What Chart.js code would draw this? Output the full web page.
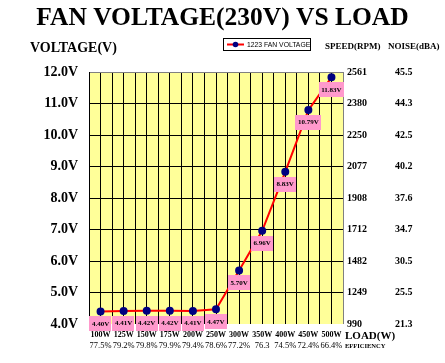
<!DOCTYPE html>
<html>
<head>
<meta charset="utf-8">
<script src="https://cdn.jsdelivr.net/npm/chart.js@4.4.1/dist/chart.umd.min.js"></script>
<style>
	body{margin:0;background:#fff;}
</style>
</head>
<body>
<canvas id="mycanvas" width="445" height="363"></canvas>
<script>
var loads=['100W','125W','150W','175W','200W','250W','300W','350W','400W','450W','500W'];
var efficiency=['77.5%','79.2%','79.8%','79.9%','79.4%','78.6%','77.2%','76.3','74.5%','72.4%','66.4%'];
var voltage=[4.40,4.41,4.42,4.42,4.41,4.47,5.70,6.96,8.83,10.79,11.83];
var voltTicks=['4.0V','5.0V','6.0V','7.0V','8.0V','9.0V','10.0V','11.0V','12.0V'];
var speedTicks=['990','1249','1482','1712','1908','2077','2250','2380','2561'];
var noiseTicks=['21.3','25.5','30.5','34.7','37.6','40.2','42.5','44.3','45.5'];
var seriesName='1223 FAN VOLTAGE';

var serif='"Liberation Serif", "Times New Roman", serif';
Chart.defaults.color='#000';

var points=[];
for(var i in voltage){
	points.push({x:2*i+1,y:voltage[i]});
}

var deco={
	id:'deco',
	beforeDraw:function(chart){
		var ctx=chart.ctx, a=chart.chartArea;
		ctx.save();
		ctx.fillStyle='#ffff99';
		ctx.fillRect(a.left,a.top,a.right-a.left,a.bottom-a.top);
		ctx.restore();
	},
	afterDatasetsDraw:function(chart){
		var ctx=chart.ctx;
		var meta=chart.getDatasetMeta(0);
		ctx.save();
		ctx.font='bold 7px '+serif;
		ctx.textAlign='center';
		ctx.textBaseline='middle';
		meta.data.forEach(function(pt,i){
			var txt=voltage[i].toFixed(2)+'V';
			var w=Math.max(21,ctx.measureText(txt).width+5);
			ctx.fillStyle='#ff99cc';
			ctx.fillRect(Math.round(pt.x-w/2),Math.round(pt.y+5),Math.round(w),15);
			ctx.fillStyle='#000';
			ctx.fillText(txt,pt.x,pt.y+12.5);
		});
		ctx.restore();
	},
	afterDraw:function(chart){
		var ctx=chart.ctx;
		ctx.save();
		ctx.fillStyle='#000';
		ctx.textBaseline='alphabetic';
		ctx.textAlign='left';
		ctx.font='bold 14px '+serif;
		ctx.fillText('VOLTAGE(V)',30,52);
		ctx.font='bold 9px '+serif;
		ctx.fillText('SPEED(RPM)',325,49);
		ctx.fillText('NOISE(dBA)',388,49);
		ctx.font='bold 11px '+serif;
		ctx.fillText('LOAD(W)',345,339);
		ctx.font='bold 6.5px '+serif;
		ctx.fillText('EFFICIENCY',345,348);
		// legend box
		ctx.fillStyle='#fff';
		ctx.fillRect(223,38,87,12);
		ctx.strokeStyle='#000';
		ctx.lineWidth=1;
		ctx.strokeRect(223.5,38.5,87,12);
		ctx.strokeStyle='#ff0000';
		ctx.lineWidth=2;
		ctx.beginPath();ctx.moveTo(227,44.5);ctx.lineTo(244,44.5);ctx.stroke();
		ctx.fillStyle='#000080';
		ctx.beginPath();ctx.arc(235.5,44.5,2.8,0,Math.PI*2);ctx.fill();
		ctx.fillStyle='#000';
		ctx.font='6.8px "Liberation Sans", Arial, sans-serif';
		ctx.textBaseline='middle';
		ctx.fillText(seriesName,247,45);
		ctx.restore();
	}
};

var ctx=document.getElementById('mycanvas');
var chart=new Chart(ctx,{
	type:'line',
	data:{
		datasets:[{
			label:seriesName,
			data:points,
			borderColor:'#ff0000',
			borderWidth:2,
			backgroundColor:'#000080',
			pointBackgroundColor:'#000080',
			pointBorderColor:'#000080',
			pointRadius:3,
			tension:0
		}]
	},
	options:{
		responsive:false,
		devicePixelRatio:1,
		animation:false,
		events:[],
		layout:{padding:{top:0,left:0,right:0,bottom:9}},
		plugins:{
			legend:{display:false},
			tooltip:{enabled:false},
			title:{
				display:true,
				text:'FAN VOLTAGE(230V) VS LOAD',
				color:'#000',
				font:{family:serif,size:25.5,weight:'bold'},
				padding:{top:3.5,bottom:37.9}
			}
		},
		scales:{
			x:{
				type:'linear',min:0,max:22,
				position:'bottom',
				afterFit:function(s){s.height=16;},
				border:{display:false},
				grid:{
					drawTicks:false,
					color:function(c){return c.tick&&c.tick.value===22?'#808080':'#000';},
					lineWidth:1
				},
				ticks:{
					stepSize:1,autoSkip:false,maxRotation:0,padding:6,
					font:{family:serif,size:8,weight:'bold'},
					callback:function(v){return v%2===1?loads[(v-1)/2]:'';}
				}
			},
			x2:{
				type:'linear',min:0,max:22,
				position:'bottom',
				afterFit:function(s){s.height=14;},
				border:{display:false},
				grid:{display:false,drawTicks:false},
				ticks:{
					stepSize:1,autoSkip:false,maxRotation:0,padding:1,
					font:{family:serif,size:8.5},
					callback:function(v){return v%2===1?efficiency[(v-1)/2]:'';}
				}
			},
			y:{
				type:'linear',min:4,max:12,
				position:'left',
				afterFit:function(s){s.width=89;},
				border:{display:true,color:'#000',width:1},
				grid:{
					drawTicks:false,
					color:function(c){
						if(!c.tick) return '#000';
						if(c.tick.value===12) return '#808080';
						if(c.tick.value===4) return 'rgba(0,0,0,0)';
						return '#000';
					}
				},
				ticks:{
					stepSize:1,padding:11,
					font:{family:serif,size:14,weight:'bold'},
					callback:function(v){return voltTicks[v-4];}
				}
			},
			y2:{
				type:'linear',min:4,max:12,
				position:'right',
				afterFit:function(s){s.width=46;},
				border:{display:false},
				grid:{display:false,drawTicks:false},
				ticks:{
					stepSize:1,padding:4,
					font:{family:serif,size:10,weight:'bold'},
					callback:function(v){return speedTicks[v-4];}
				}
			},
			y3:{
				type:'linear',min:4,max:12,
				position:'right',
				afterFit:function(s){s.width=56;},
				border:{display:false},
				grid:{display:false,drawTicks:false},
				ticks:{
					stepSize:1,padding:6,
					font:{family:serif,size:10,weight:'bold'},
					callback:function(v){return noiseTicks[v-4];}
				}
			}
		}
	},
	plugins:[deco]
});
</script>
</body>
</html>
